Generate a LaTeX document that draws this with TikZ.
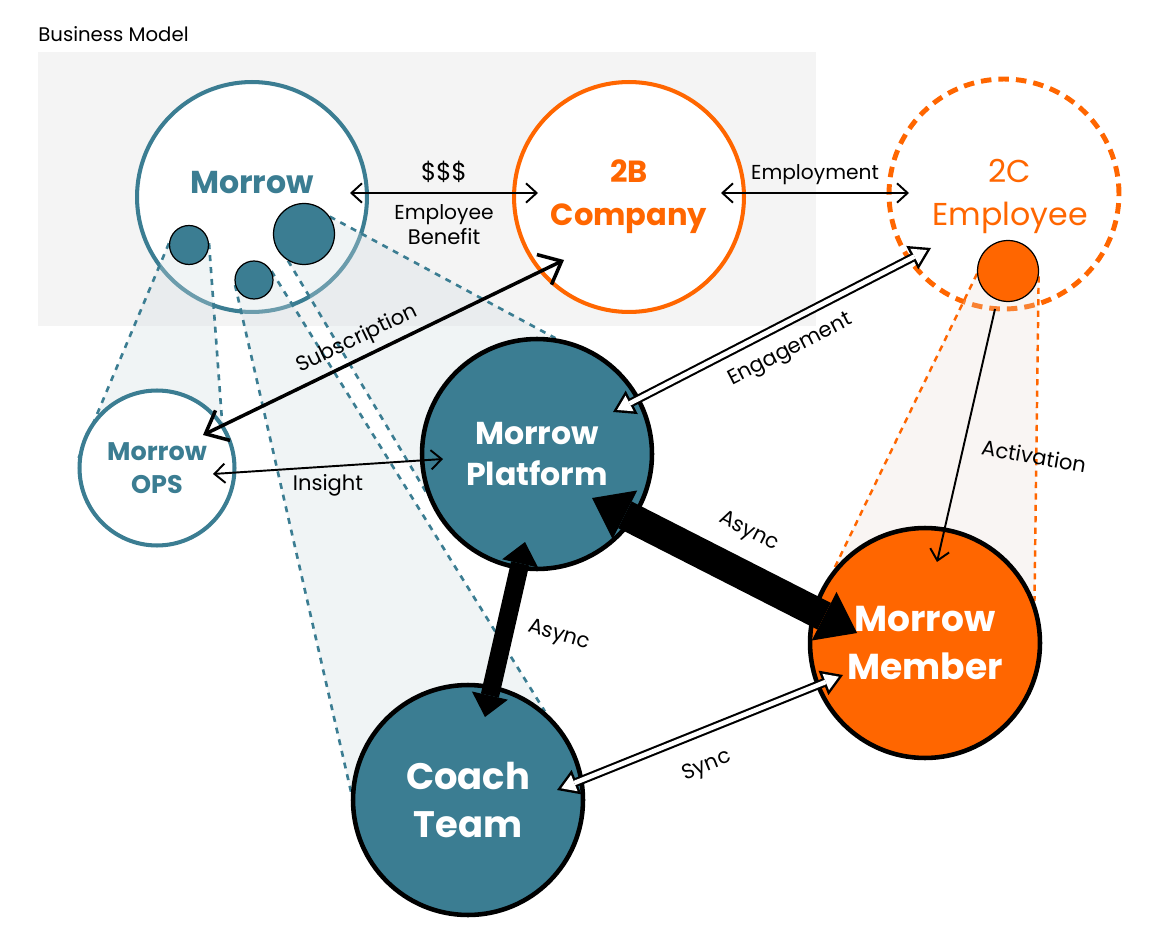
\documentclass[tikz,border=0pt]{standalone}
\usepackage{fontspec}
\setmainfont{Poppins}
\usetikzlibrary{positioning,arrows.meta}
\definecolor{mteal}{HTML}{3B7D92}
\definecolor{morange}{HTML}{FF6600}
\definecolor{boxgray}{HTML}{F4F4F4}
\definecolor{fanblue}{HTML}{D3DEE3}
\definecolor{fansand}{HTML}{E6D8CE}
\pgfdeclarelayer{back}
\pgfdeclarelayer{fan}
\pgfsetlayers{back,fan,main}
\newcommand{\edgefont}{\fontsize{12}{14.2}\selectfont}

\begin{document}
\begin{tikzpicture}[x=0.02cm, y=-0.02cm,
  bigcircle/.style={circle, minimum size=4.6cm, inner sep=0pt, align=center, line width=2.6pt},
  subdot/.style={circle, inner sep=0pt, fill=mteal, draw=black, line width=0.7pt},
  fanline/.style={mteal, line width=1.5pt, dash pattern=on 3.4pt off 3.4pt},
  fanfill/.style={fill=fanblue, fill opacity=0.32},
  orangeline/.style={morange, line width=1.4pt, dash pattern=on 3.5pt off 3pt},
  link/.style={line width=1.1pt, >={Straight Barb[length=6pt,width=11pt]}},
  sublink/.style={line width=2pt, >={Straight Barb[length=11pt,width=19pt]}},
  asyncbig/.style={line width=17pt, arrows={Triangle[length=21pt,width=31pt,line width=0pt]-Triangle[length=21pt,width=31pt,line width=0pt]}},
  asyncsmall/.style={line width=10.5pt, arrows={Triangle[length=12.5pt,width=21pt,line width=0pt]-Triangle[length=12.5pt,width=21pt,line width=0pt]}},
  hollowout/.style={line width=5pt, arrows={Triangle[length=12pt,width=15pt,line width=0pt]-Triangle[length=12pt,width=15pt,line width=0pt]}},
  hollowin/.style={white, line width=2.6pt, shorten <=2.6pt, shorten >=2.6pt, arrows={Triangle[length=8pt,width=10pt,line width=0pt]-Triangle[length=8pt,width=10pt,line width=0pt]}},
  lbl/.style={font=\edgefont, inner sep=0pt}]

  \begin{pgfonlayer}{back}
    \fill[white] (0,0) rectangle (1162,945);
    \fill[boxgray] (38,52) rectangle (816,326);
    \node[bigcircle, draw=mteal, line width=2.3pt, fill=white,
      label={[text=mteal, font=\fontsize{18}{24}\selectfont\bfseries, yshift=0.28cm]center:Morrow}] (mor) at (252,197) {};
    \node[bigcircle, draw=morange, line width=2.8pt, dash pattern=on 6pt off 4pt,
      label={[text=morange, font=\fontsize{18}{25}\selectfont, align=center, xshift=0.12cm, yshift=-0.05cm]center:2C\\Employee}] (ce) at (1004,194) {};
  \end{pgfonlayer}

  \node[anchor=west, inner sep=0pt, font=\fontsize{11.2}{13}\selectfont] (title) at (38,34) {Business Model};

  \node[bigcircle, draw=morange, line width=2.3pt, fill=white, text=morange,
    font=\fontsize{17.4}{24.4}\selectfont\bfseries] (cb) at (629,197) {2B\\Company};
  \node[bigcircle, minimum size=3.1cm, draw=mteal, line width=2.3pt, fill=white, text=mteal,
    font=\fontsize{14.5}{18.7}\selectfont\bfseries] (ops) at (157,468) {Morrow\\OPS};
  \node[bigcircle, draw=black, fill=mteal, text=white,
    font=\fontsize{18}{23.8}\selectfont\bfseries] (plat) at (537,454) {Morrow\\Platform};
  \node[bigcircle, draw=black, fill=mteal, text=white,
    font=\fontsize{21}{27}\selectfont\bfseries] (co) at (468,800) {Coach\\Team};
  \node[bigcircle, draw=black, fill=morange, text=white,
    font=\fontsize{20.5}{27}\selectfont\bfseries] (mem) at (925,643) {Morrow\\Member};

  \node[subdot, minimum size=0.78cm] (sa) at (189,245) {};
  \node[subdot, minimum size=0.76cm] (sb) at (254,280) {};
  \node[subdot, minimum size=1.22cm] (sc) at (304,234) {};
  \node[subdot, fill=morange, minimum size=1.22cm] (so) at (1008,271) {};

  % projections of the small circles
  \begin{pgfonlayer}{fan}
    \fill[fanfill] (sa.175) -- (ops.174) -- (ops.35) -- (sa.5) -- cycle;
    \fill[fanfill] (sb.195) -- (co.176) -- (co.49) -- (sb.27) -- cycle;
    \fill[fanfill] (sc.239) -- (plat.199) -- (plat.81) -- (sc.34) -- cycle;
    \fill[fansand, fill opacity=0.24] (so.185) -- (mem.141) -- (mem.21) -- (so.350) -- cycle;
    \draw[fanline] (sa.175) -- (ops.174);
    \draw[fanline] (sa.5) -- (ops.35);
    \draw[fanline] (sb.195) -- (co.176);
    \draw[fanline] (sb.27) -- (co.49);
    \draw[fanline] (sc.239) -- (plat.199);
    \draw[fanline] (sc.34) -- (plat.81);
    \draw[orangeline] (so.185) -- (mem.141);
    \draw[orangeline] (so.350) -- (mem.21);
  \end{pgfonlayer}

  % business links
  \draw[link, <->] ([shift={(98,-4)}]mor.center) --
    node[lbl, above=5.5pt] {\fontsize{14}{16}\selectfont\$\$\$}
    node[lbl, below=6pt, align=center] {\fontsize{11.5}{14}\selectfont Employee\\Benefit} ([shift={(-91,-4)}]cb.center);
  \draw[link, <->] ([shift={(92,-4)}]cb.center) --
    node[lbl, above=4pt] {\fontsize{11.5}{14}\selectfont Employment} ([shift={(-95,-1)}]ce.center);
  \draw[sublink, <->] ([shift={(46,-33)}]ops.center) --
    node[lbl, sloped, above=3.5pt, pos=0.45] {Subscription} ([shift={(-65,63)}]cb.center);
  \draw[link, <->] ([shift={(56,6)}]ops.center) --
    node[lbl, below=4pt] {Insight} ([shift={(-94,5)}]plat.center);

  % engagement
  \draw[hollowout] ([shift={(76,-42)}]plat.center) --
    node[lbl, sloped, below=7pt, pos=0.52] {Engagement} ([shift={(-73,54)}]ce.center);
  \draw[hollowin] ([shift={(76,-42)}]plat.center) -- ([shift={(-73,54)}]ce.center);

  \draw[link, ->] ([shift={(-13,38)}]so.center) -- ([shift={(12,-81)}]mem.center);
  \node[lbl, rotate=-10] (actlbl) at (1034,456) {Activation};

  % async and sync
  \draw[asyncbig] ([shift={(55,44)}]plat.center) --
    node[lbl, sloped, above=9pt, pos=0.52] {Async} ([shift={(-68,-10)}]mem.center);
  \draw[asyncsmall] ([shift={(-12,88)}]plat.center) -- ([shift={(17,-83)}]co.center);
  \node[lbl, rotate=-16] (asynclbl) at (559,636) {Async};

  \draw[hollowout] ([shift={(89,-10)}]co.center) --
    node[lbl, sloped, below=11pt, pos=0.48] {Sync} ([shift={(-82,32)}]mem.center);
  \draw[hollowin] ([shift={(89,-10)}]co.center) -- ([shift={(-82,32)}]mem.center);
\end{tikzpicture}
\end{document}
